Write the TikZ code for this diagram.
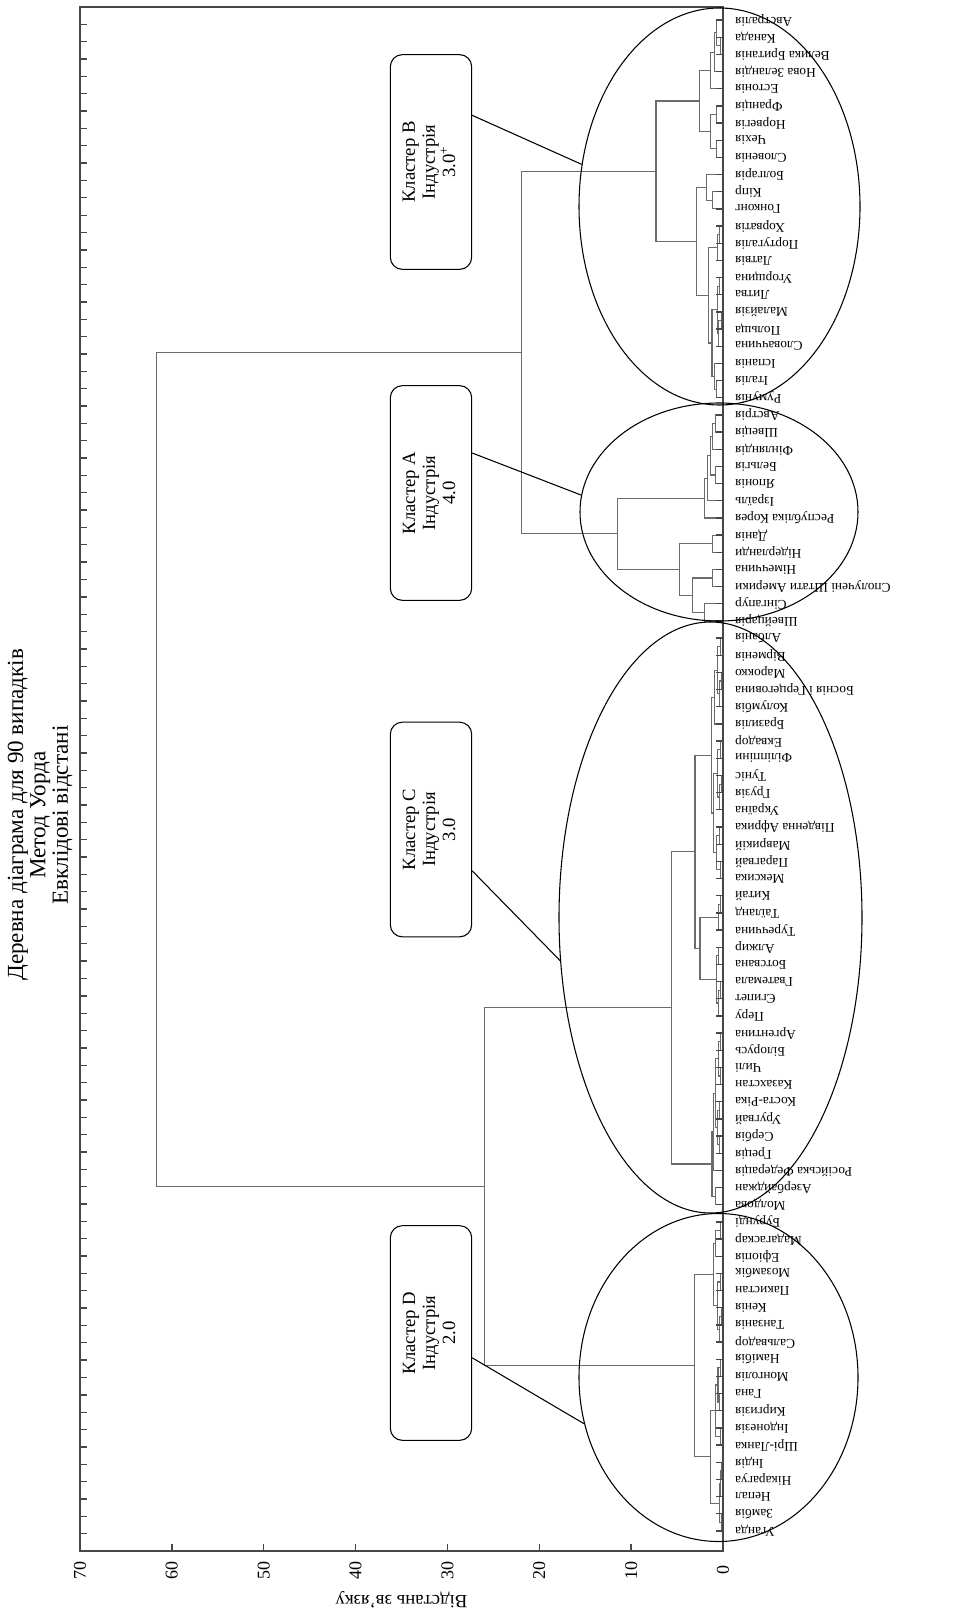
\documentclass[tikz,border=0pt]{standalone}
\usepackage{fontspec}
\setmainfont{Liberation Serif}
\usepackage{graphicx}
\usetikzlibrary{shapes.geometric,calc}
\definecolor{treegray}{gray}{0.42}
\definecolor{framegray}{gray}{0.28}
\newcommand\mrg[4]{%
  \edef\mrgname{#1}\edef\mrgA{#2}\edef\mrgB{#3}\edef\mrgD{#4}%
  \path let \p1=(\mrgA), \p2=(\mrgB) in coordinate (\mrgname) at ({(723-9.186*\mrgD)*0.75pt},{0.5*(\y1)+0.5*(\y2)});
  \draw[tree] (\mrgA) -| (\mrgname) |- (\mrgB);}
\begin{document}
\begin{tikzpicture}[x=0.75pt,y=-0.75pt,
  tree/.style={draw=treegray,line width=0.85pt},
  frame/.style={draw=framegray,line width=1.3pt},
  tick/.style={draw=framegray,line width=1pt},
  lbl/.style={rotate=180,anchor=east,inner sep=0pt,font=\fontsize{10}{11}\selectfont},
  num/.style={rotate=90,inner sep=0pt,font=\fontsize{13.5}{14}\selectfont},
  ell/.style={ellipse,draw=black,line width=0.8pt,inner sep=0pt},
  box/.style={draw=black,line width=0.8pt,rounded corners=9pt,minimum width=61pt,minimum height=161pt,inner sep=0pt},
  conn/.style={draw=black,line width=0.8pt}]
\useasboundingbox (0,0) rectangle (953,1616);
% frame and ticks
\draw[frame] (80,7) rectangle (723,1551);
\foreach \k in {1,...,88} {\draw[tick] (80,{7+17.348*\k}) -- (87,{7+17.348*\k});}
\foreach \k in {1,...,6} {\draw[tick] ({723-91.86*\k},1551) -- ({723-91.86*\k},1544);}
\foreach \k/\v in {0/0,1/10,2/20,3/30,4/40,5/50,6/60,7/70} {\node[num] (n\k) at ({723-91.86*\k},1570) {\v};}
\node[rotate=180,font=\fontsize{14}{16}\selectfont] (xt) at (401.5,1600) {Відстань зв’язку};
% title
\node[rotate=90,align=center,font=\fontsize{17.3}{16.8}\selectfont] (title) at (40,815) {Деревна діаграма для 90 випадків\\Метод Уорда\\Евклідові відстані};
% leaves
\foreach \i/\t in {0/Австралія,1/Канада,2/Велика Британія,3/Нова Зеландія,4/Естонія,5/Франція,6/Норвегія,7/Чехія,8/Словенія,9/Болгарія,10/Кіпр,11/Гонконг,12/Хорватія,13/Португалія,14/Латвія,15/Угорщина,16/Литва,17/Малайзія,18/Польща,19/Словаччина,20/Іспанія,21/Італія,22/Румунія,23/Австрія,24/Швеція,25/Фінляндія,26/Бельгія,27/Японія,28/Ізраїль,29/Республіка Корея,30/Данія,31/Нідерланди,32/Німеччина,33/Сполучені Штати Америки,34/Сінгапур,35/Швейцарія,36/Албанія,37/Вірменія,38/Марокко,39/Боснія і Герцеговина,40/Колумбія,41/Бразилія,42/Еквадор,43/Філіппіни,44/Туніс,45/Грузія,46/Україна,47/Південна Африка,48/Маврикій,49/Парагвай,50/Мексика,51/Китай,52/Таїланд,53/Туреччина,54/Алжир,55/Ботсвана,56/Гватемала,57/Єгипет,58/Перу,59/Аргентина,60/Білорусь,61/Чилі,62/Казахстан,63/Коста-Ріка,64/Уругвай,65/Сербія,66/Греція,67/Російська Федерація,68/Азербайджан,69/Молдова,70/Бурунді,71/Мадагаскар,72/Ефіопія,73/Мозамбік,74/Пакистан,75/Кенія,76/Танзанія,77/Сальвадор,78/Намібія,79/Монголія,80/Гана,81/Киргизія,82/Індонезія,83/Шрі-Ланка,84/Індія,85/Нікарагуа,86/Непал,87/Замбія,88/Уганда} {
  \coordinate (L\i) at (723,{20+17.17*\i});
  \node[lbl] (T\i) at (735,{20+17.17*\i}) {\t};
}
% tree
\foreach \mn/\ma/\mb/\md in {b1/L1/L2/0.25,b2/L0/b1/0.7,b3/b2/L3/0.9,b4/b3/L4/1.35,b5/L5/L6/0.7,b6/L7/L8/0.7,b7/b5/b6/1.35,B1/b4/b7/2.6,
  b8/L10/L11/1.1,b9/L9/b8/1.8,b10/L12/L13/0.4,b11/b10/L14/0.6,b12/L15/L16/0.4,b13/L17/L18/0.2,b14/b13/L19/0.45,b15/b12/b14/0.6,
  b16/L21/L22/0.7,b17/L20/b16/0.9,b18/b15/b17/1.2,b19/b11/b18/1.55,B2/b9/b19/2.9,B/B1/B2/7.3,
  a1/L23/L24/0.85,a2/a1/L25/1.1,a3/L26/L27/0.8,a4/a2/a3/1.4,a5/a4/L28/1.7,a6/a5/L29/2.0,a7/L30/L31/1.1,a8/L32/L33/1.1,
  a9/L34/L35/2.0,a10/a8/a9/3.3,a11/a7/a10/4.7,A/a6/a11/11.5,
  c1/L36/L37/0.3,c2/L38/L39/0.2,c3/c2/L40/0.4,c4/c1/c3/0.6,c5/c4/L41/0.9,c6/L42/L43/0.3,c7/L44/L45/0.2,c8/c7/L46/0.35,
  c9/c6/c8/0.6,c10/L47/L48/0.4,c11/L49/L50/0.3,c12/c10/c11/0.7,c13/c9/c12/1.0,C1a/c5/c13/1.3,
  c14/L51/L52/0.3,c15/c14/L53/0.5,c16/L54/L55/0.5,c17/L56/L57/0.3,c18/c17/L58/0.45,c19/c16/c18/0.7,C1b/c15/c19/2.5,C1/C1a/C1b/3.05,
  c20/L59/L60/0.3,c21/L61/L62/0.3,c22/c20/c21/0.5,c23/L63/L64/0.35,c24/L65/L66/0.4,c25/c23/c24/0.6,c26/c22/c25/0.8,
  c27/c26/L67/1.0,c28/L68/L69/0.8,C2/c27/c28/1.2,C/C1/C2/5.6,
  d1/L70/L71/0.3,d2/d1/L72/0.8,d3/L73/L74/0.3,d4/L75/L76/0.2,d5/d4/L77/0.35,d6/d3/d5/0.6,D1/d2/d6/1.05,
  d7/L78/L79/0.3,d8/L80/L81/0.4,d9/d7/d8/0.55,d10/L82/L83/0.3,d11/d9/d10/0.8,
  d12/L84/L85/0.2,d13/d12/L86/0.3,d14/L87/L88/0.2,d15/d13/d14/0.35,D2/d11/d15/1.34,D/D1/D2/3.1,
  BA/B/A/21.9,CD/C/D/26,R/BA/CD/61.7} {\mrg{\mn}{\ma}{\mb}{\md}}
% leaf ticks on right edge
\foreach \i in {0,...,88} {\draw[tick] (L\i) -- ++(-7,0);}
% ellipses
\node[ell,minimum width=210.75pt,minimum height=297.75pt] (eB) at (719.5,206.5) {};
\node[ell,minimum width=208.5pt,minimum height=163.5pt] (eA) at (719,512) {};
\node[ell,minimum width=227.25pt,minimum height=443.25pt] (eC) at (710.5,917.5) {};
\node[ell,minimum width=209.25pt,minimum height=246pt] (eD) at (718.5,1377.5) {};
% cluster boxes
\node[box] (kB) at (431,162) {\rotatebox{90}{\fontsize{14}{15}\selectfont\begin{tabular}{@{}c@{}}Кластер B\\Індустрія\\3.0\textsuperscript{+}\end{tabular}}};
\node[box] (kA) at (431,493) {\rotatebox{90}{\fontsize{14}{15}\selectfont\begin{tabular}{@{}c@{}}Кластер A\\Індустрія\\4.0\end{tabular}}};
\node[box] (kC) at (431,829.5) {\rotatebox{90}{\fontsize{14}{15}\selectfont\begin{tabular}{@{}c@{}}Кластер C\\Індустрія\\3.0\end{tabular}}};
\node[box] (kD) at (431,1333) {\rotatebox{90}{\fontsize{14}{15}\selectfont\begin{tabular}{@{}c@{}}Кластер D\\Індустрія\\2.0\end{tabular}}};
% connectors
\draw[conn] ([yshift=35pt]kB.east) -- (eB.163);
\draw[conn] ([yshift=30pt]kA.east) -- (eA.173);
\draw[conn] ([yshift=-31pt]kC.east) -- (eC.196);
\draw[conn] ([yshift=-18.6pt]kD.east) -- (eD.199);
\end{tikzpicture}
\end{document}
